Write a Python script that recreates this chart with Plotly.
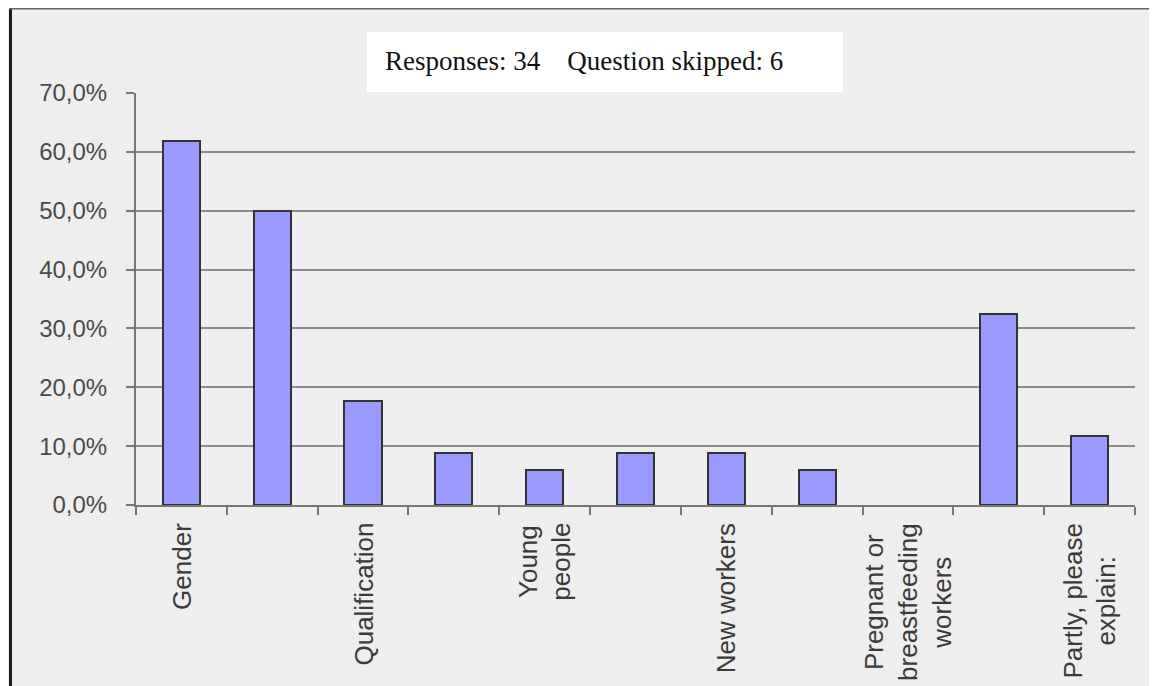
import plotly.graph_objects as go

# ---- data ----
categories = ["Gender", "", "Qualification", "", "Young<br>people", "",
              "New workers", "", "Pregnant or<br>breastfeeding<br>workers", "",
              "Partly, please<br>explain:"]
values = [61.8, 50.0, 17.6, 8.8, 5.9, 8.8, 8.8, 5.9, 0.0, 32.4, 11.8]
y_ticks = [0, 10, 20, 30, 40, 50, 60, 70]
y_tick_labels = ["0,0%", "10,0%", "20,0%", "30,0%", "40,0%", "50,0%", "60,0%", "70,0%"]
header_text = "Responses: 34\u00a0\u00a0\u00a0\u00a0Question skipped: 6"

positions = list(range(len(values)))
boundaries = [p - 0.5 for p in positions] + [positions[-1] + 0.5]

# page has an 8px body margin; work in reference pixel coords minus 8
OFF = 8
W, H = 1157 - OFF, 686 - OFF
L, T = 136 - OFF, 93 - OFF
R = W - (1135 - OFF)
B = H - (505 - OFF)
pw, ph = W - L - R, H - T - B

def px_x(px):
    return (px - OFF - L) / pw

def px_y(py):
    return (H - B - (py - OFF)) / ph

fig = go.Figure()
fig.add_trace(go.Bar(
    x=positions, y=values, width=0.41,
    marker=dict(color="#9999ff",
                line=dict(color="#333333", width=[2 if v > 0 else 0 for v in values])),
    hoverinfo="y",
))

annotations = []
for p, lab in zip(positions, categories):
    if lab:
        annotations.append(dict(
            x=p, xref="x", y=0, yref="paper", yanchor="top", xanchor="center",
            yshift=-16, text=lab, textangle=-90, showarrow=False, align="center",
            font=dict(family="Liberation Sans, Arial, sans-serif", size=26, color="#3a3a3a"),
        ))

annotations.append(dict(
    x=px_x(383), xref="paper", y=px_y(61), yref="paper", xanchor="left", yanchor="middle",
    text=header_text, showarrow=False,
    font=dict(family="Liberation Serif, Times New Roman, serif", size=27, color="#111111"),
))

shapes = [
    # header box
    dict(type="rect", xref="paper", yref="paper",
         x0=px_x(367), x1=px_x(843), y0=px_y(92), y1=px_y(32),
         fillcolor="white", line=dict(width=0), layer="above"),
    # frame lines
    dict(type="line", xref="paper", yref="paper",
         x0=px_x(10.5), x1=px_x(10.5), y0=px_y(8), y1=px_y(686),
         line=dict(color="#1a1a1a", width=3)),
    dict(type="line", xref="paper", yref="paper",
         x0=px_x(9), x1=px_x(1157), y0=px_y(8.5), y1=px_y(8.5),
         line=dict(color="#666666", width=2)),
]

fig.update_layout(
    width=W, height=H,
    margin=dict(l=L, r=R, t=T, b=B, pad=0),
    paper_bgcolor="#eeeeee", plot_bgcolor="#eeeeee",
    showlegend=False,
    bargap=0,
    annotations=annotations,
    shapes=shapes,
    xaxis=dict(
        range=[boundaries[0], boundaries[-1]],
        tickmode="array", tickvals=boundaries, showticklabels=False,
        ticks="outside", ticklen=8, tickwidth=1.5, tickcolor="#777777",
        showline=True, linecolor="#777777", linewidth=2,
        showgrid=False, zeroline=False, fixedrange=True,
    ),
    yaxis=dict(
        range=[0, 70], tickmode="array", tickvals=y_ticks, ticktext=y_tick_labels,
        ticks="outside", ticklen=8, tickwidth=1.5, tickcolor="#777777",
        showline=True, linecolor="#777777", linewidth=2,
        showgrid=True, gridcolor="#8c8c8c", gridwidth=2,
        zeroline=False, ticklabelstandoff=14,
        tickfont=dict(family="Liberation Sans, Arial, sans-serif", size=24, color="#4a4a4a"),
    ),
)

fig.write_html("out.html")
